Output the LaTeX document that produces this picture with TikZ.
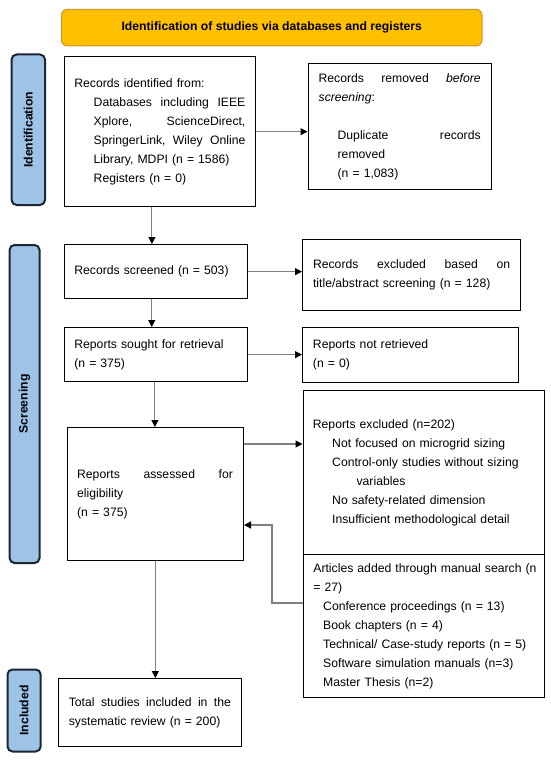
\documentclass[tikz,border=0pt]{standalone}
\usepackage{fontspec}
\setmainfont{Liberation Sans}
\usetikzlibrary{arrows.meta,calc}
\definecolor{barblue}{HTML}{9DC3E6}
\definecolor{bannerfill}{HTML}{FFC000}
\definecolor{bannerline}{HTML}{C8962A}
\definecolor{linegray}{HTML}{808080}
\definecolor{barline}{HTML}{1C2533}
\newcommand{\jl}[2]{\hbox to #1{#2}}
\newcommand{\ind}{\hspace*{19.3pt}}
\begin{document}
\begin{tikzpicture}[x=1pt,y=-1pt,
  font=\fontsize{12.2}{19}\selectfont,
  box/.style={draw=black, line width=1.3pt, rectangle, anchor=north west, align=left, inner ysep=0pt},
  sidebar/.style={draw=barline, line width=2pt, fill=barblue, rounded corners=5pt, rotate=90,
    font=\fontsize{12.2}{19}\selectfont\bfseries, inner sep=0pt},
  arr/.style={draw=linegray, line width=1.1pt, -{Triangle[length=7pt,width=7pt,color=black]}},
]
\fill[white] (0,0) rectangle (550,760);
\useasboundingbox (0,0) rectangle (550,760);

\node[draw=bannerline, line width=1pt, fill=bannerfill, rounded corners=6pt,
  minimum width=420.5pt, minimum height=36.7pt, inner sep=0pt,
  font=\fontsize{12.2}{19}\selectfont\bfseries] (banner) at (271.75,27.65)
  {Identification of studies via databases and registers};

\node[sidebar, minimum width=150.5pt, minimum height=33.4pt] (idbar) at (28.3,129.75) {Identification};
\node[sidebar, minimum width=318pt, minimum height=30pt] (scbar) at (24.55,404) {Screening};
\node[sidebar, minimum width=82pt, minimum height=33.2pt] (inbar) at (24.1,710.5) {Included};

\node[box, text width=171pt, inner xsep=10.25pt, minimum height=150pt] (idbox) at (63.5,56)
  {Records identified from:\\\ind\jl{151.7pt}{Databases\hfill including\hfill IEEE}\\\ind\jl{151.7pt}{Xplore,\hfill ScienceDirect,}\\\ind\jl{151.7pt}{SpringerLink,\hfill Wiley\hfill Online}\\\ind Library, MDPI (n = 1586)\\\ind Registers (n = 0)};

\node[box, text width=162pt, inner xsep=10.5pt, minimum height=126pt] (rmbox) at (307.5,63)
  {\jl{162pt}{Records\hfill removed\hfill \textit{before}}\\\textit{screening}:\\[19pt]\hspace*{19pt}\jl{143pt}{Duplicate\hfill records}\\\hspace*{19pt}removed\\\hspace*{19pt}(n = 1,083)};

\node[box, text width=162.8pt, inner xsep=10.2pt, minimum height=54pt] (scbox) at (63.5,244)
  {Records screened (n = 503)};

\node[box, text width=197.2pt, inner xsep=10.4pt, minimum height=71pt] (exbox) at (302,239)
  {\jl{197.2pt}{Records\hfill excluded\hfill based\hfill on}\\title/abstract screening (n = 128)};

\node[box, text width=163.1pt, inner xsep=10.2pt, minimum height=54pt] (sobox) at (63.5,327)
  {Reports sought for retrieval\\(n = 375)};

\node[box, text width=195.4pt, inner xsep=10.3pt, minimum height=55pt] (nrbox) at (302,327)
  {Reports not retrieved\\(n = 0)};

\node[box, text width=222pt, inner xsep=9.75pt, minimum height=164pt] (rebox) at (302.5,390)
  {Reports excluded (n=202)\\\ind Not focused on microgrid sizing\\\ind Control-only studies without sizing\\\hspace*{43.7pt}variables\\\ind No safety-related dimension\\\ind Insufficient methodological detail};

\node[box, text width=156.4pt, inner xsep=9.8pt, minimum height=133pt] (asbox) at (66.7,427)
  {\jl{155.8pt}{Reports\hfill assessed\hfill for}\\eligibility\\(n = 375)};

\node[box, text width=221pt, inner xsep=10.25pt, minimum height=143pt] (arbox) at (302.5,554)
  {\mbox{Articles added through manual search (n}\\= 27)\\\hspace*{9.8pt}Conference proceedings (n = 13)\\\hspace*{9.8pt}Book chapters (n = 4)\\\hspace*{9.8pt}Technical/ Case-study reports (n = 5)\\\hspace*{9.8pt}Software simulation manuals (n=3)\\\hspace*{9.8pt}Master Thesis (n=2)};

\node[box, text width=162.6pt, inner xsep=10.2pt, minimum height=68pt] (tobox) at (58,678)
  {\jl{162.1pt}{Total\hfill studies\hfill included\hfill in\hfill the}\\systematic review (n = 200)};

\draw[arr] (idbox.east) -- (idbox.east -| rmbox.west);
\draw[arr] ([xshift=-8pt]idbox.south) -- ([xshift=-8pt]idbox.south |- scbox.north);
\draw[arr] (scbox.east) -- (scbox.east -| exbox.west);
\draw[arr] ([xshift=-4pt]scbox.south) -- ([xshift=-4pt]scbox.south |- sobox.north);
\draw[arr] (sobox.east) -- (sobox.east -| nrbox.west);
\draw[arr] ([xshift=-1pt]sobox.south) -- ([xshift=-1pt]sobox.south |- asbox.north);
\draw[arr] ([yshift=-17pt]asbox.north east) -- ([yshift=-17pt]asbox.north east -| rebox.west);
\draw[arr] (asbox.south) -- (asbox.south |- tobox.north);
\draw[arr] ([yshift=-49pt]arbox.north west) -- ++(-30.5,0) |- ([yshift=-98pt]asbox.north east);
\end{tikzpicture}
\end{document}
